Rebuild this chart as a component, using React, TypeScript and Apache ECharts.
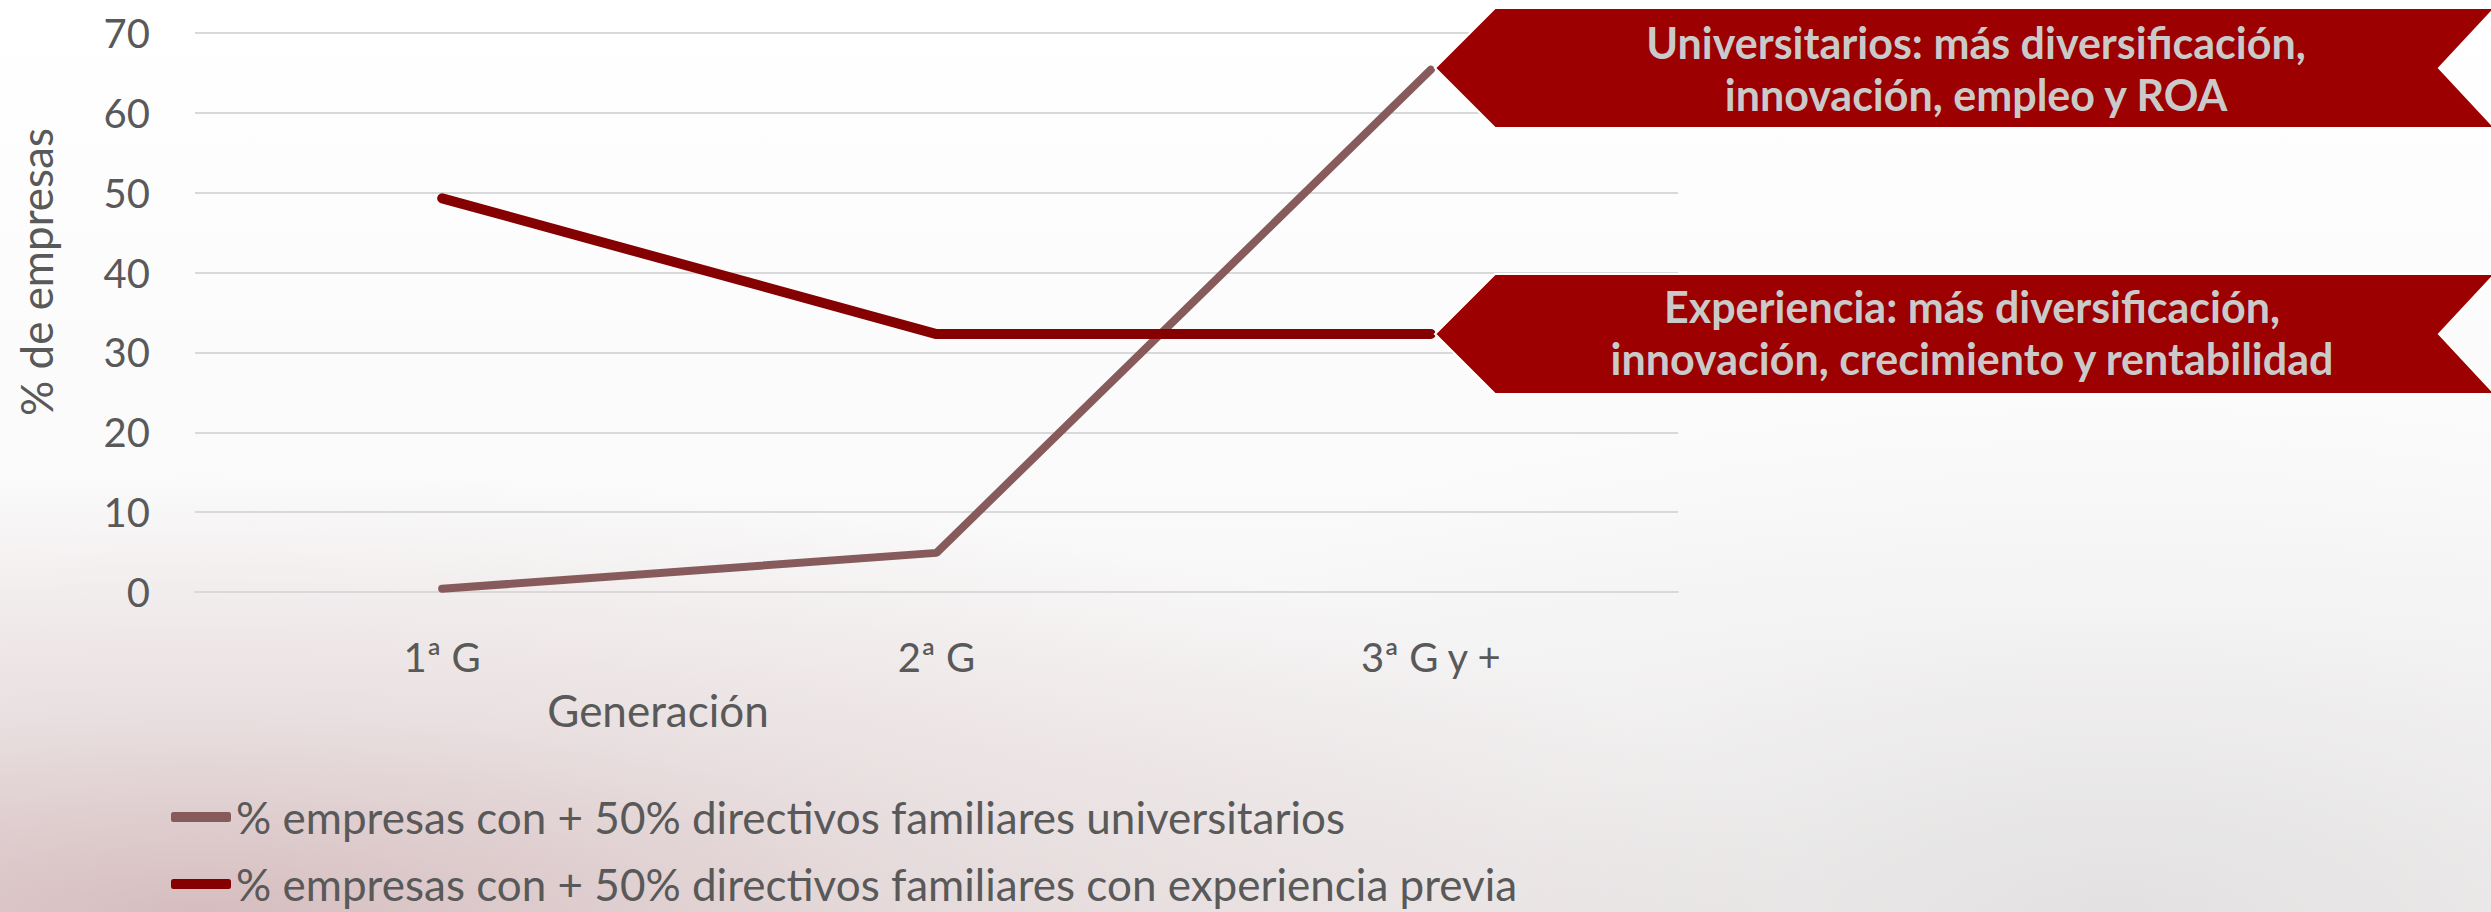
import React, { useEffect, useRef } from "react";
import * as echarts from "echarts";

const categories = ["1ª G", "2ª G", "3ª G y +"];
const universitarios = [0.4, 4.9, 65.4];
const experiencia = [49.3, 32.3, 32.3];
const seriesNames = [
  "% empresas con + 50% directivos familiares universitarios",
  "% empresas con + 50% directivos familiares con experiencia previa",
];
const calloutTop = "Universitarios: más diversificación,\ninnovación, empleo y ROA";
const calloutBottom = "Experiencia: más diversificación,\ninnovación, crecimiento y rentabilidad";
const xTitle = "Generación";
const yTitle = "% de empresas";

const FONT = "Lato";
const GRAY = "#595959";

function calloutShape(top: number, bottom: number) {
  const mid = (top + bottom) / 2;
  return [
    [1435, mid],
    [1495, top],
    [2495, top],
    [2439, mid],
    [2495, bottom],
    [1495, bottom],
  ];
}

function legendFor(name: string, top: number) {
  return {
    orient: "horizontal",
    left: 171,
    top,
    padding: 0,
    itemWidth: 60,
    itemHeight: 10,
    icon: "roundRect",
    textStyle: { color: GRAY, fontFamily: FONT, fontSize: 44, lineHeight: 44 },
    data: [name],
  };
}

export default function App() {
  const ref = useRef<HTMLDivElement>(null);
  useEffect(() => {
    if (!ref.current) return;
    const chart = echarts.init(ref.current, undefined, { renderer: "svg" });
    chart.setOption({
      animation: false,
      backgroundColor: "transparent",
      grid: { left: 195, right: 813, top: 33, bottom: 320 },
      xAxis: {
        type: "category",
        data: categories,
        boundaryGap: true,
        axisLine: { show: true, lineStyle: { color: "#d9d9d9", width: 2 } },
        axisTick: { show: false },
        axisLabel: { color: GRAY, fontFamily: FONT, fontSize: 40, lineHeight: 40, margin: 45 },
      },
      yAxis: {
        type: "value",
        min: 0,
        max: 70,
        interval: 10,
        axisLine: { show: false },
        axisTick: { show: false },
        splitLine: { lineStyle: { color: "#d9d9d9", width: 2 } },
        axisLabel: { color: GRAY, fontFamily: FONT, fontSize: 40, margin: 45 },
      },
      legend: [legendFor(seriesNames[0], 795), legendFor(seriesNames[1], 862)],
      series: [
        {
          name: seriesNames[0],
          type: "line",
          data: universitarios,
          symbol: "none",
          showSymbol: false,
          color: "#875b5b",
          lineStyle: { color: "#875b5b", width: 8, cap: "round" },
        },
        {
          name: seriesNames[1],
          type: "line",
          data: experiencia,
          symbol: "none",
          showSymbol: false,
          color: "#850000",
          lineStyle: { color: "#850000", width: 10, cap: "round" },
        },
      ],
      graphic: [
        {
          type: "polygon",
          z: 100,
          shape: { points: calloutShape(8, 128) },
          style: { fill: "#9c0000", stroke: "#ffffff", lineWidth: 2 },
        },
        {
          type: "polygon",
          z: 100,
          shape: { points: calloutShape(274, 394) },
          style: { fill: "#9c0000", stroke: "#ffffff", lineWidth: 2 },
        },
        {
          type: "text",
          z: 101,
          x: 1976,
          y: 68,
          style: {
            text: calloutTop,
            fill: "#cacaca",
            font: `bold 43px ${FONT}`,
            lineHeight: 52,
            align: "center",
            verticalAlign: "middle",
          },
        },
        {
          type: "text",
          z: 101,
          x: 1972,
          y: 332,
          style: {
            text: calloutBottom,
            fill: "#cacaca",
            font: `bold 43px ${FONT}`,
            lineHeight: 52,
            align: "center",
            verticalAlign: "middle",
          },
        },
        {
          type: "text",
          z: 101,
          x: 658,
          y: 710,
          style: {
            text: xTitle,
            fill: GRAY,
            font: `44px ${FONT}`,
            align: "center",
            verticalAlign: "middle",
          },
        },
        {
          type: "text",
          z: 101,
          x: 36,
          y: 272,
          rotation: Math.PI / 2,
          style: {
            text: yTitle,
            fill: GRAY,
            font: `44px ${FONT}`,
            align: "center",
            verticalAlign: "middle",
          },
        },
      ],
    });
    return () => chart.dispose();
  }, []);

  return (
    <div
      style={{
        position: "fixed",
        left: 0,
        top: 0,
        width: 2491,
        height: 912,
        background: [
          "radial-gradient(ellipse 65% 48% at 8% 100%, rgba(170,110,116,0.38) 0%, rgba(190,150,154,0.22) 45%, rgba(255,255,255,0) 100%)",
          "radial-gradient(ellipse 45% 60% at 85% 100%, rgba(200,200,200,0.35) 0%, rgba(220,220,220,0.15) 55%, rgba(255,255,255,0) 100%)",
          "linear-gradient(180deg, #ffffff 0%, #fafafa 55%, #f1eeee 100%)",
        ].join(", "),
      }}
    >
      <div ref={ref} style={{ width: 2491, height: 912 }} />
    </div>
  );
}
